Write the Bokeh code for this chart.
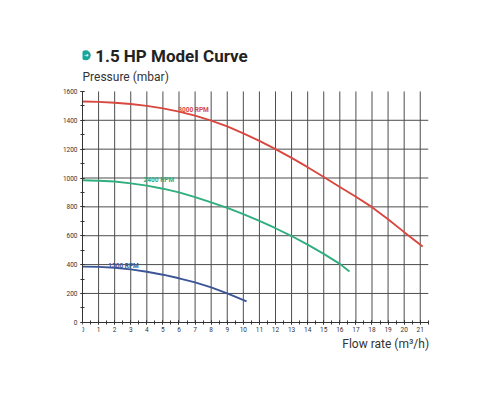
from bokeh.plotting import figure
from bokeh.models import FixedTicker, Label, Range1d
from bokeh.embed import file_html
from bokeh.resources import INLINE

# ---- data ----
flow_3000 = [0, 1, 2, 3, 4, 5, 6, 7, 8, 9, 10, 11, 12, 13, 14, 15, 16, 17, 18, 19, 20, 21.15]
pres_3000 = [1530, 1528, 1522, 1513, 1500, 1483, 1460, 1432, 1398, 1358, 1310, 1258, 1200, 1140, 1075, 1007, 938, 870, 798, 715, 625, 525]

flow_2400 = [0, 1, 2, 3, 4, 5, 6, 7, 8, 9, 10, 11, 12, 13, 14, 15, 16, 16.6]
pres_2400 = [984, 981, 976, 963, 947, 926, 900, 868, 831, 793, 750, 703, 652, 598, 538, 474, 405, 352]

flow_1500 = [0, 1, 2, 3, 4, 5, 6, 7, 8, 9, 10.2]
pres_1500 = [386, 384, 378, 367, 350, 330, 305, 277, 242, 201, 145]

curve_labels = ["3000 RPM", "2400 RPM", "1500 RPM"]
label_x = [5.95, 3.8, 1.6]
label_y = [1473, 987, 388]
colors = ["#d9473f", "#2fae7e", "#3b5597"]

x_ticks = list(range(0, 22))
y_ticks = list(range(0, 1601, 200))
x_max = 21.5
y_max = 1600

title_text = "1.5 HP Model Curve"
y_title = "Pressure (mbar)"
x_title = "Flow rate (m³/h)"

W, H = 484, 384
# the frame reaches up over the titles and down under the x axis title;
# the axes themselves are bounded to the chart's real extent
p = figure(width=W, height=H, output_backend="svg", toolbar_location=None,
           x_range=Range1d(0, 21.7), y_range=Range1d(-230, 1953),
           min_border_left=82, min_border_right=53, min_border_top=40, min_border_bottom=29)
p.outline_line_color = None
p.background_fill_color = "white"
p.border_fill_color = "white"
p.grid.visible = False

p.xaxis.fixed_location = 0
p.xaxis.bounds = (0, x_max)
p.yaxis.bounds = (0, y_max)

for ax, ticks, minor in ((p.xaxis, x_ticks, [i * 0.5 for i in range(0, 44)]),
                         (p.yaxis, y_ticks, list(range(0, 1601, 100)))):
    ax.ticker = FixedTicker(ticks=ticks, minor_ticks=minor)
    ax.axis_line_color = "#333333"
    ax.axis_line_width = 1
    ax.major_tick_line_color = "#333333"
    ax.minor_tick_line_color = "#333333"
    ax.major_tick_in = 2
    ax.major_tick_out = 2
    ax.minor_tick_in = 2
    ax.minor_tick_out = 2
    ax.major_label_text_font = "Roboto"
    ax.major_label_text_font_size = "6.5px"
    ax.major_label_text_color = "#333333"
    ax.major_label_standoff = 3

# grid lines, bounded to the chart area
gx = x_ticks[1:]
p.segment(x0=gx, y0=[0] * len(gx), x1=gx, y1=[y_max] * len(gx),
          line_color="#4d4d4d", line_width=1)
gy = y_ticks[1:-1]
p.segment(x0=[0] * len(gy), y0=gy, x1=[x_max] * len(gy), y1=gy,
          line_color="#4d4d4d", line_width=1)

series = [(flow_3000, pres_3000), (flow_2400, pres_2400), (flow_1500, pres_1500)]
for (fx, py), c in zip(series, colors):
    p.line(fx, py, line_color=c, line_width=1.9)

for t, lx, ly, c in zip(curve_labels, label_x, label_y, colors):
    p.add_layout(Label(x=lx, y=ly, text=t, text_color=c, text_font="Roboto",
                       text_font_size="6.5px", text_font_style="bold",
                       text_baseline="middle", text_align="left"))

# title block
p.scatter(x=[0.2], y=[1850], size=10, marker="circle", fill_color="#1ca59b", line_color=None)
p.add_layout(Label(x=0.23, y=1852, text="➜", text_color="white", text_font="DejaVu Sans",
                   text_font_size="5.5px", text_font_style="bold",
                   text_baseline="middle", text_align="center"))
p.add_layout(Label(x=0.79, y=1847, text=title_text, text_color="#222222", text_font="Roboto",
                   text_font_size="17px", text_font_style="bold",
                   text_baseline="middle", text_align="left"))
p.add_layout(Label(x=0.0, y=1702, text=y_title, text_color="#333333", text_font="Roboto",
                   text_font_size="12px", text_baseline="middle", text_align="left"))
p.add_layout(Label(x=21.55, y=-150, text=x_title, text_color="#333333", text_font="Roboto",
                   text_font_size="12px", text_baseline="middle", text_align="right"))

open("out.html", "w").write(file_html(p, INLINE))
